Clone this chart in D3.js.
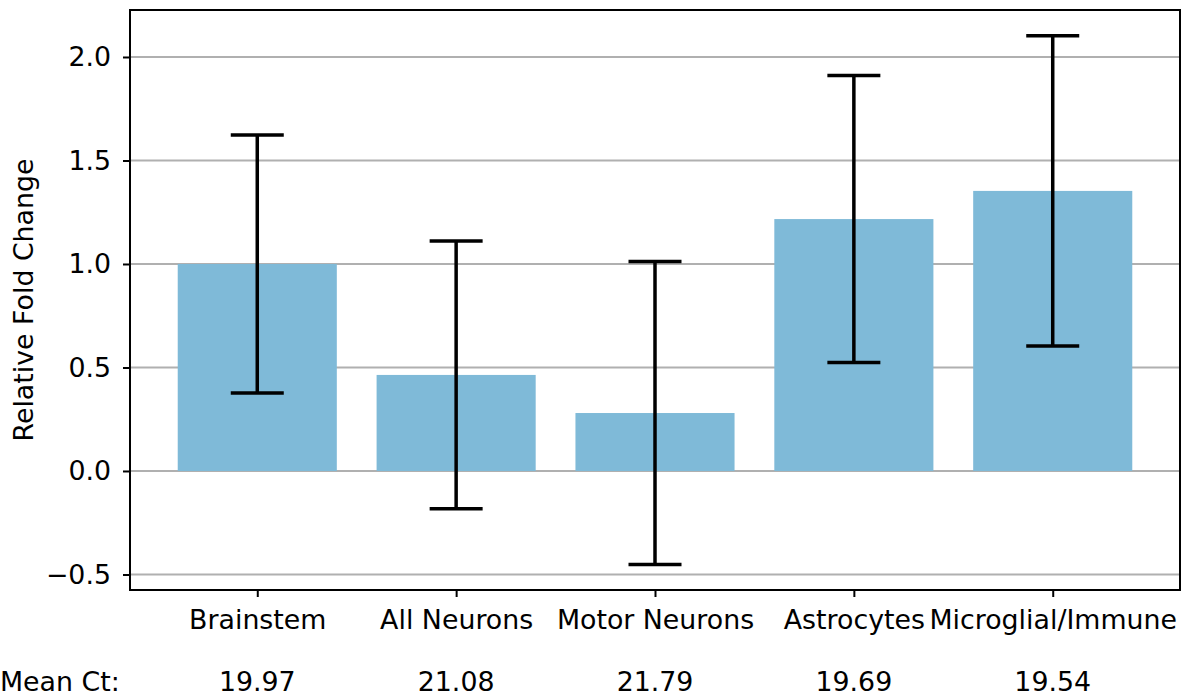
<!DOCTYPE html>
<html><head><meta charset="utf-8">
<script src="https://cdn.jsdelivr.net/npm/d3@7"></script>
<style>body{margin:0;background:#fff}svg{display:block}text{font-family:"DejaVu Sans",sans-serif;fill:#000}</style>
</head><body><svg id="c" width="1181" height="692"></svg>
<script>
const categories = ["Brainstem","All Neurons","Motor Neurons","Astrocytes","Microglial/Immune"];
const foldChange = [1.0, 0.464, 0.28, 1.217, 1.353];
const errors = [0.623, 0.647, 0.732, 0.693, 0.749];
const meanCt = ["19.97","21.08","21.79","19.69","19.54"];
const yTicks = [-0.5, 0.0, 0.5, 1.0, 1.5, 2.0];

const FS = 26.8;
const svg = d3.select("#c");
const L = 130, R = 1180, T = 10, B = 590;
const x = d3.scaleLinear().domain([-0.64, 4.64]).range([L, R]);
const y = d3.scaleLinear().domain([-0.575, 2.227]).range([B, T]);
const bw = x(0.8) - x(0);

// grid
svg.append("g").selectAll("line").data(yTicks).join("line")
  .attr("x1", L).attr("x2", R).attr("y1", d => y(d)).attr("y2", d => y(d))
  .attr("stroke", "#b0b0b0").attr("stroke-width", 2);

// bars
svg.append("g").selectAll("rect").data(foldChange).join("rect")
  .attr("x", (d, i) => x(i) - bw / 2).attr("width", bw)
  .attr("y", d => y(Math.max(0, d))).attr("height", d => Math.abs(y(d) - y(0)))
  .attr("fill", "#7fbad8");

// error bars
const eg = svg.append("g").attr("stroke", "#000").attr("stroke-width", 3.5);
foldChange.forEach((v, i) => {
  const cx = x(i), e = errors[i], cw = 26.5;
  eg.append("line").attr("x1", cx).attr("x2", cx).attr("y1", y(v - e)).attr("y2", y(v + e));
  eg.append("line").attr("x1", cx - cw).attr("x2", cx + cw).attr("y1", y(v + e)).attr("y2", y(v + e));
  eg.append("line").attr("x1", cx - cw).attr("x2", cx + cw).attr("y1", y(v - e)).attr("y2", y(v - e));
});

// frame
svg.append("rect").attr("x", L).attr("y", T).attr("width", R - L).attr("height", B - T)
  .attr("fill", "none").attr("stroke", "#000").attr("stroke-width", 2);

// y axis
const ya = svg.append("g").attr("transform", `translate(${L},0)`)
  .call(d3.axisLeft(y).tickValues(yTicks).tickSize(7).tickPadding(12)
    .tickFormat(d => d3.format(".1f")(d).replace("-", "\u2212")));
ya.select(".domain").remove();
ya.selectAll("line").attr("stroke-width", 2);
ya.selectAll("text").attr("font-size", FS).style("font-family", "DejaVu Sans");

// x axis
const xa = svg.append("g").attr("transform", `translate(0,${B})`)
  .call(d3.axisBottom(x).tickValues(d3.range(categories.length)).tickSize(7).tickPadding(13)
    .tickFormat(i => categories[i]));
xa.select(".domain").remove();
xa.selectAll("line").attr("stroke-width", 2);
xa.selectAll("text").attr("font-size", FS).style("font-family", "DejaVu Sans");

// y label
svg.append("text").attr("transform", `translate(33,${(T + B) / 2}) rotate(-90)`)
  .attr("text-anchor", "middle").attr("font-size", FS).text("Relative Fold Change");

// mean Ct row
svg.append("text").attr("x", 0).attr("y", 691).attr("font-size", FS).text("Mean Ct:");
svg.append("g").selectAll("text").data(meanCt).join("text")
  .attr("x", (d, i) => x(i)).attr("y", 691).attr("text-anchor", "middle")
  .attr("font-size", FS).text(d => d);
</script></body></html>
